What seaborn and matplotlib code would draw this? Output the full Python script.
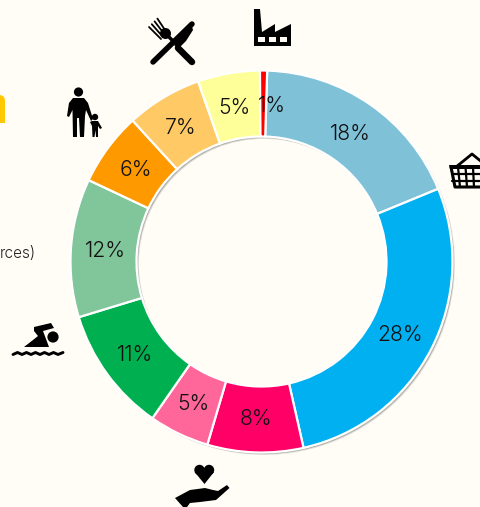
import numpy as np
import matplotlib
matplotlib.use("Agg")
import matplotlib.pyplot as plt
from matplotlib.patches import Circle, Polygon, Rectangle, FancyBboxPatch, Wedge
import seaborn as sns

categories = ["Groceries", "Housing", "Donations", "Gifts", "Sport", "Other", "Family", "Dining", "Snacks", "Industry"]
values = [18.3, 27.65, 8.1, 5.1, 10.6, 11.7, 6.2, 6.4, 5.25, 0.6]
labels = ["18%", "28%", "8%", "5%", "11%", "12%", "6%", "7%", "5%", "1%"]
colors = ["#7FC1D7", "#00B0F0", "#FF0066", "#FF6699", "#00B050", "#81C59A", "#FF9900", "#FFC966", "#FFFF99", "#FF0000"]
BG = "#FFFDF5"

sns.set_theme(style="white", rc={"figure.facecolor": BG, "axes.facecolor": BG})
plt.rcParams["font.family"] = ["Inter", "DejaVu Sans"]
palette = sns.color_palette(colors)

W, H = 480, 507
fig = plt.figure(figsize=(W / 100, H / 100), dpi=100)
cx, cy, R, r = 261.5, 261.5, 191.0, 125.0
ax = fig.add_axes([(cx - R) / W, 1 - (cy + R) / H, 2 * R / W, 2 * R / H])
ax.set_facecolor("none")
lab = iter(labels)
wedges, _, autotexts = ax.pie(
    values, colors=palette, startangle=88.3, counterclock=False, radius=1,
    wedgeprops=dict(width=(R - r) / R, edgecolor="white", linewidth=1.6, zorder=3),
    autopct=lambda p: next(lab), pctdistance=0.82,
    textprops=dict(fontsize=15.2, color="#111111", fontweight=300, zorder=4),
)
for off, alpha in ((2.4, 0.18), (1.6, 0.35)):
    ax.add_patch(Wedge((off / R, -off / R), 1.0, 0, 360, width=(R - r) / R, fc="#555555", ec="none", alpha=alpha, zorder=1))
ax.set_xlim(-1.02, 1.02); ax.set_ylim(-1.02, 1.02)
ax.set_position([(cx - 1.02 * R) / W, 1 - (cy + 1.02 * R) / H, 2.04 * R / W, 2.04 * R / H])
ax.set_aspect("equal"); ax.axis("off")
for t in autotexts:
    x, y = t.get_position()
    t.set_position((x, y - 0.006))
x, y = autotexts[-1].get_position()
autotexts[-1].set_position((x + 0.047, y))

ov = fig.add_axes([0, 0, 1, 1], zorder=5)
ov.set_xlim(0, W); ov.set_ylim(H, 0); ov.axis("off"); ov.patch.set_alpha(0)
K = "black"
def poly(pts, fc=K, **kw):
    ov.add_patch(Polygon(pts, closed=True, fc=fc, ec="none", **kw))
def line(x0, y0, x1, y1, w, cap="round"):
    ov.plot([x0, x1], [y0, y1], color=K, lw=w * 0.72, solid_capstyle=cap)

# cut-off items at the left edge
ov.add_patch(FancyBboxPatch((-14, 95), 19, 40, boxstyle="round,pad=0,rounding_size=6", fc="#FFC800", ec="none"))
ov.add_patch(Rectangle((0, 122.5), 8, 20, fc=BG, ec="none"))
ov.text(36, 254, "rces)", ha="right", va="center", fontsize=11, color="#222222", fontweight=300)

# factory
poly([(254, 46), (254, 9), (260, 9), (262, 32), (275, 24), (275, 32), (291, 24), (291, 46)])
for bx in (258, 269, 280):
    ov.add_patch(Rectangle((bx, 37), 6.5, 5, fc=BG, ec="none"))

# knife and fork
line(153, 62, 192, 24, 5.5)
poly([(174, 45), (191, 23), (193, 30), (186, 41), (178, 49)])
line(178, 48, 192, 62, 6.5)
for i in range(4):
    line(149 + i * 2.8, 27 - i * 2.8, 161 + i * 2.0, 39 - i * 2.0, 1.8)
ov.add_patch(Circle((165.5, 33.5), 5.5, fc=K, ec="none"))
line(165, 33, 173, 41, 3.5)

# parent and child
ov.add_patch(Circle((78.5, 92), 4.6, fc=K, ec="none"))
poly([(73, 98), (84, 98), (88, 103), (93, 119), (91, 121), (86, 110), (85, 116), (84, 137), (80, 137),
      (79, 118), (77, 118), (77, 137), (73, 137), (72.5, 110), (69, 117), (67, 116), (69, 103)])
ov.add_patch(Circle((95, 117), 3.2, fc=K, ec="none"))
poly([(92, 121), (98, 121), (102, 128), (100, 129), (98, 126), (98, 137), (96, 137), (95.5, 130),
      (94.5, 137), (92.5, 137), (92, 126), (90, 122)])

# basket
ov.plot([456, 472, 488], [167, 154, 167], color=K, lw=2)
poly([(449, 164.5), (480, 164.5), (480, 168.5), (450, 168.5)])
ov.plot([451, 455, 480], [167, 187, 187], color=K, lw=2.2)
for yy in (174, 180.5):
    ov.plot([452, 480], [yy, yy], color=K, lw=1.6)
for xx, xb in ((458, 460), (465.5, 467), (473, 474)):
    ov.plot([xx, xb], [167, 187], color=K, lw=1.6)

# swimmer
ov.add_patch(Circle((53, 337), 5.6, fc=K, ec="none"))
poly([(24, 347), (33, 340), (38, 336), (34, 331), (34, 327), (51, 323), (54, 328), (43, 331), (49, 347)])
xs = [13, 17.5, 22, 26.5, 31, 35.5, 40, 44.5, 49, 53.5, 58, 63]
ys = [354.5, 352.5, 354.5, 352.5, 354.5, 352.5, 354.5, 352.5, 354.5, 352.5, 354.5, 352.5]
ov.plot(xs, ys, color=K, lw=2.1)

# hand with heart
ov.add_patch(Circle((199.5, 470), 5.2, fc=K, ec="none"))
ov.add_patch(Circle((209, 470), 5.2, fc=K, ec="none"))
poly([(194.6, 472), (214, 472), (204.5, 484)])
poly([(175, 498), (190, 490), (205, 488), (213, 490), (218, 491), (227, 485), (229.5, 488), (216, 500),
      (200, 502), (190, 503), (187, 507), (183, 507)])

fig.savefig("out.png", dpi=100, facecolor=BG)
